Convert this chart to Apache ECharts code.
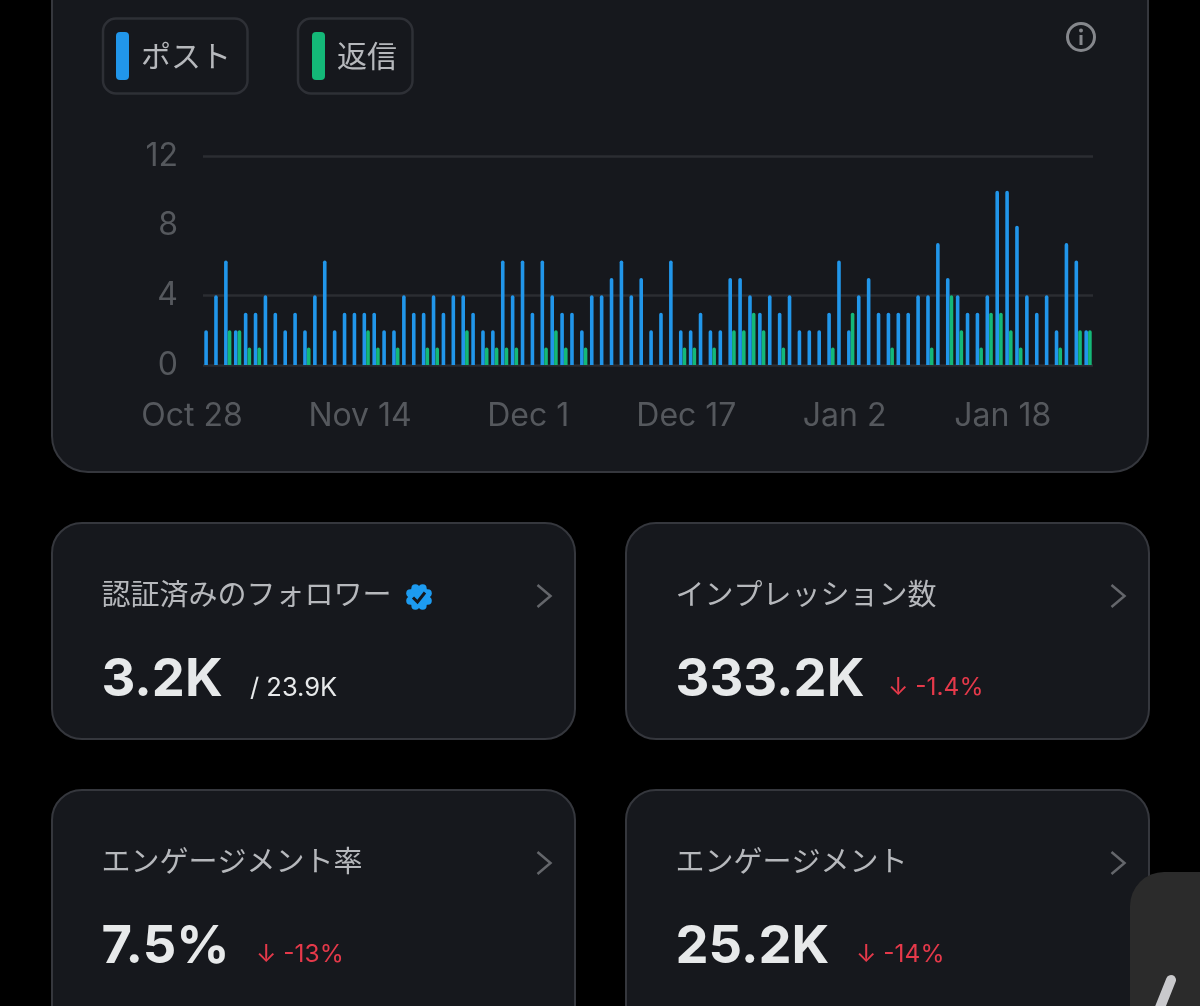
<!DOCTYPE html>
<html>
<head>
<meta charset="utf-8" />
<title>アナリティクス</title>
<script src="https://cdn.jsdelivr.net/npm/echarts@6/dist/echarts.min.js"></script>
<style>
html, body { margin: 0; padding: 0; background: #000; }
#main { width: 1200px; height: 1006px; }
</style>
</head>
<body>
<div id="main"></div>
<script type="text/javascript">
var days = [
	'Oct 28','Oct 29','Oct 30','Oct 31','Nov 1','Nov 2','Nov 3','Nov 4','Nov 5','Nov 6','Nov 7','Nov 8','Nov 9','Nov 10','Nov 11',
	'Nov 12','Nov 13','Nov 14','Nov 15','Nov 16','Nov 17','Nov 18','Nov 19','Nov 20','Nov 21','Nov 22','Nov 23','Nov 24','Nov 25','Nov 26',
	'Nov 27','Nov 28','Nov 29','Nov 30','Dec 1','Dec 2','Dec 3','Dec 4','Dec 5','Dec 6','Dec 7','Dec 8','Dec 9','Dec 10','Dec 11',
	'Dec 12','Dec 13','Dec 14','Dec 15','Dec 16','Dec 17','Dec 18','Dec 19','Dec 20','Dec 21','Dec 22','Dec 23','Dec 24','Dec 25','Dec 26',
	'Dec 27','Dec 28','Dec 29','Dec 30','Dec 31','Jan 1','Jan 2','Jan 3','Jan 4','Jan 5','Jan 6','Jan 7','Jan 8','Jan 9','Jan 10',
	'Jan 11','Jan 12','Jan 13','Jan 14','Jan 15','Jan 16','Jan 17','Jan 18','Jan 19','Jan 20','Jan 21','Jan 22','Jan 23','Jan 24','Jan 25'
];
var tickDays = ['Oct 28', 'Nov 14', 'Dec 1', 'Dec 17', 'Jan 2', 'Jan 18'];
var posts = [
	2,4,6,2,3,3,4,3,2,3, 2,4,6,2,3,3,3,3,2,2, 4,3,3,4,3,4,4,3,2,2,
	6,4,6,3,6,4,3,3,2,4, 4,5,6,4,5,2,3,6,2,2, 3,2,2,5,5,4,3,4,3,4,
	2,2,2,3,6,2,4,5,3,3, 3,3,4,4,7,5,4,3,3,4, 10,10,8,4,3,4,2,7,6,2
];
var replies = [
	0,0,2,2,1,1,0,0,0,0, 1,0,0,0,0,0,2,1,0,1, 0,0,1,1,0,0,2,0,1,1,
	1,1,0,0,1,2,1,0,1,0, 0,0,0,0,0,0,0,0,1,1, 0,1,0,2,2,3,2,0,1,0,
	0,0,0,1,0,3,0,0,0,1, 0,0,0,1,0,4,2,0,1,3, 3,2,1,0,0,0,1,0,2,2
];
var gridValues = [0, 4, 12];
var legendNames = ['ポスト', '返信'];
var cardTitles = ['認証済みのフォロワー', 'インプレッション数', 'エンゲージメント率', 'エンゲージメント'];
var cardValues = ['3.2K', '333.2K', '7.5%', '25.2K'];
var cardNotes = ['/ 23.9K', '↓ -1.4%', '↓ -13%', '↓ -14%'];

var CJK = '"Noto Sans CJK JP", sans-serif';
var cardFill = '#16181d';
var cardLine = '#35373d';

function cardBox(x, y, w, h, r) {
	return { type: 'rect', z: 0, shape: { x: x, y: y, width: w, height: h, r: r }, style: { fill: cardFill, stroke: cardLine, lineWidth: 2 } };
}
function chevron(x, y) {
	return { type: 'polyline', z: 1, shape: { points: [[x, y - 11], [x + 13, y], [x, y + 11]] }, style: { fill: 'none', stroke: '#64666b', lineWidth: 2.5 } };
}
function label(x, y, text, font, fill) {
	return { type: 'text', z: 1, style: { x: x, y: y, text: text, font: font, fill: fill, textVerticalAlign: 'middle' } };
}

var els = [
	cardBox(52, -60, 1096, 532, 36),
	{ type: 'rect', z: 1, shape: { x: 103, y: 18.5, width: 144.5, height: 75, r: 13 }, style: { fill: 'none', stroke: '#2e3036', lineWidth: 2.5 } },
	{ type: 'rect', z: 1, shape: { x: 298, y: 18.5, width: 114.5, height: 75, r: 13 }, style: { fill: 'none', stroke: '#2e3036', lineWidth: 2.5 } },
	{ type: 'circle', z: 1, shape: { cx: 1081, cy: 37, r: 13.5 }, style: { fill: 'none', stroke: '#85878c', lineWidth: 3 } },
	{ type: 'circle', z: 1, shape: { cx: 1081, cy: 30.5, r: 2 }, style: { fill: '#85878c' } },
	{ type: 'rect', z: 1, shape: { x: 1079.5, y: 35, width: 3, height: 10 }, style: { fill: '#85878c' } }
];
var xs = [52, 626], ys = [523, 790];
var noteX = [250, 888, 256, 856], noteFill = ['#e7e9ea', '#e5394a', '#e5394a', '#e5394a'], noteSize = [25.5, 24.5, 24.5, 24.5];
for (var i = 0; i < 4; i++) {
	var cx = xs[i % 2], cy = ys[i >> 1];
	els.push(cardBox(cx, cy, 523, i < 2 ? 216 : 260, 30));
	els.push(chevron(cx + 485.5, cy + 73));
	els.push(label(cx + 49.5, cy + 71, cardTitles[i], '29px ' + CJK, '#b6b8bc'));
	els.push(label(cx + 49.5, cy + 157, cardValues[i], '700 52.5px Inter, sans-serif', '#e7e9ea'));
	els.push(label(noteX[i], cy + 165, cardNotes[i], noteSize[i] + 'px Inter, sans-serif', noteFill[i]));
}
// verified badge: a disc with eight lobes
els.push({ type: 'circle', z: 1, shape: { cx: 419, cy: 597, r: 11 }, style: { fill: '#1d9bf0' } });
for (var k = 0; k < 8; k++) {
	var a = k * Math.PI / 4 + Math.PI / 8;
	els.push({ type: 'circle', z: 1, shape: { cx: 419 + 9.5 * Math.cos(a), cy: 597 + 9.5 * Math.sin(a), r: 4 }, style: { fill: '#1d9bf0' } });
}
els.push({ type: 'polyline', z: 2, shape: { points: [[413, 597.5], [417.5, 602], [425, 592.5]] }, style: { fill: 'none', stroke: '#16181d', lineWidth: 3 } });
// floating button in the corner
els.push({ type: 'rect', z: 5, shape: { x: 1130, y: 872, width: 120, height: 200, r: 34 }, style: { fill: '#2b2b2b' } });
els.push({ type: 'line', z: 6, shape: { x1: 1171, y1: 980, x2: 1159, y2: 1010 }, style: { stroke: '#c9c9cc', lineWidth: 10, lineCap: 'round' } });

var chart = echarts.init(document.getElementById('main'));
chart.setOption({
	backgroundColor: '#000',
	animation: false,
	graphic: { elements: els },
	legend: {
		left: 116, top: 32, padding: 0,
		icon: 'path://M4,0 H9 A4,4 0 0 1 13,4 V44 A4,4 0 0 1 9,48 H4 A4,4 0 0 1 0,44 V4 A4,4 0 0 1 4,0 Z',
		itemWidth: 13, itemHeight: 48, itemGap: 81,
		selectedMode: false,
		textStyle: { color: '#b6b8bc', fontSize: 30, fontFamily: 'Noto Sans CJK JP', padding: [0, 0, 0, 7] },
		data: legendNames
	},
	grid: { left: 203, right: 107, top: 156, bottom: 641 },
	xAxis: {
		type: 'category',
		data: days,
		axisLine: { show: false },
		axisTick: { show: false },
		axisLabel: {
			color: '#55585d', fontSize: 32, fontFamily: 'Inter', margin: 35,
			padding: [0, 32, 0, 0],
			hideOverlap: false,
			interval: function (idx, val) { return tickDays.indexOf(val) >= 0; }
		}
	},
	yAxis: {
		type: 'value', min: 0, max: 12, interval: 4,
		splitLine: { show: false },
		axisLabel: { color: '#55585d', fontSize: 32, fontFamily: 'Inter', margin: 25, padding: [2, 0, 0, 0] }
	},
	series: [
		{
			name: legendNames[0], type: 'bar', data: posts,
			barWidth: 3.6, barGap: '3%',
			itemStyle: { color: '#2196ea', borderRadius: [2, 2, 0, 0] },
			markLine: {
				silent: true, symbol: 'none', z: 1,
				label: { show: false },
				lineStyle: { color: '#2b2d32', width: 2.5, type: 'solid' },
				data: gridValues.map(function (v) { return { yAxis: v }; })
			}
		},
		{
			name: legendNames[1], type: 'bar', data: replies,
			barWidth: 3.6,
			itemStyle: { color: '#14b878', borderRadius: [2, 2, 0, 0] }
		}
	]
});
</script>
</body>
</html>
